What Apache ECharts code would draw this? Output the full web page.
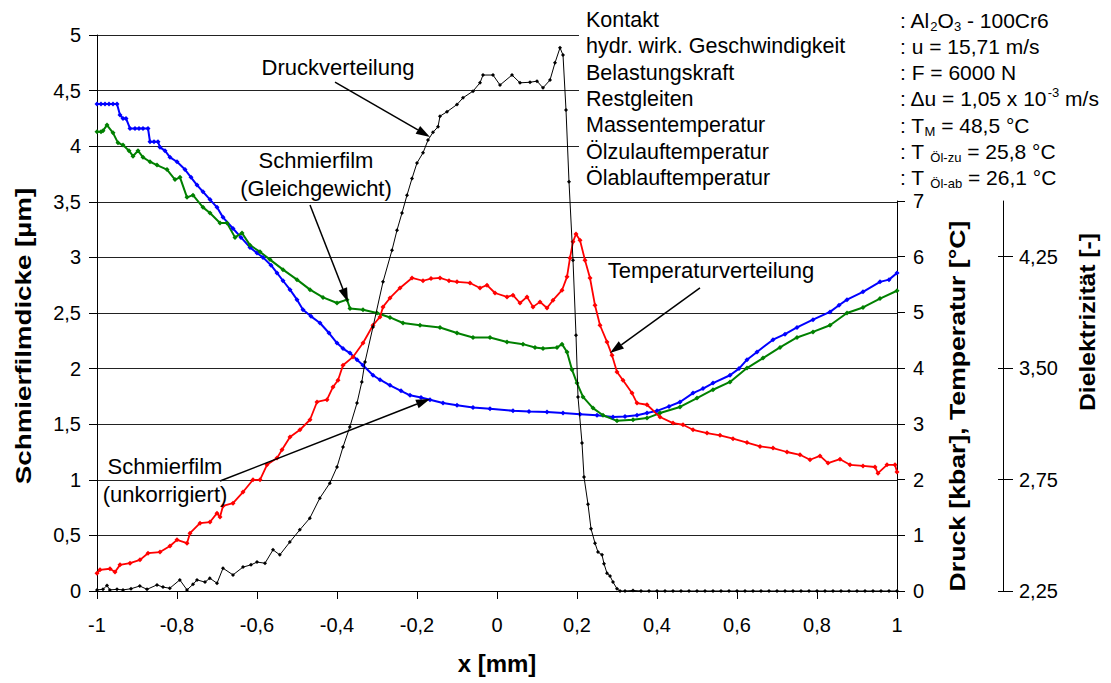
<!DOCTYPE html>
<html><head><meta charset="utf-8">
<script src="https://cdn.jsdelivr.net/npm/echarts@6/dist/echarts.min.js"></script>
<style>html,body{margin:0;padding:0;background:#fff}#c{width:1111px;height:683px}</style>
</head><body><div id="c"></div>
<script>
// ---------- DATA ----------
// Schmierfilm (unkorrigiert) [µm] vs x [mm]
const filmUnkorrigiert = [[-1.000,4.38],[-0.990,4.38],[-0.980,4.38],[-0.970,4.38],[-0.960,4.38],[-0.950,4.38],[-0.9425,4.28],[-0.935,4.25],[-0.9275,4.25],[-0.9175,4.16],[-0.905,4.16],[-0.895,4.16],[-0.885,4.16],[-0.8725,4.16],[-0.8675,4.04],[-0.8575,4.04],[-0.8475,4.04],[-0.8425,3.99],[-0.83,3.96],[-0.8175,3.90],[-0.80,3.86],[-0.78,3.79],[-0.765,3.72],[-0.75,3.65],[-0.735,3.59],[-0.7175,3.52],[-0.70,3.45],[-0.685,3.36],[-0.66,3.26],[-0.64,3.18],[-0.6175,3.09],[-0.60,3.04],[-0.585,3.00],[-0.565,2.93],[-0.55,2.86],[-0.535,2.79],[-0.5175,2.71],[-0.50,2.62],[-0.485,2.53],[-0.465,2.47],[-0.4425,2.41],[-0.42,2.32],[-0.40,2.23],[-0.385,2.18],[-0.3675,2.14],[-0.35,2.08],[-0.335,2.03],[-0.31,1.94],[-0.2925,1.90],[-0.2675,1.85],[-0.24,1.80],[-0.2175,1.76],[-0.19,1.74],[-0.1675,1.72],[-0.135,1.69],[-0.10,1.67],[-0.06,1.65],[-0.0175,1.64],[0.04,1.62],[0.08,1.615],[0.125,1.61],[0.165,1.60],[0.2075,1.59],[0.25,1.58],[0.29,1.565],[0.32,1.57],[0.35,1.58],[0.375,1.60],[0.40,1.62],[0.43,1.66],[0.4575,1.70],[0.49,1.78],[0.515,1.82],[0.54,1.87],[0.5825,1.94],[0.605,2.00],[0.625,2.08],[0.65,2.15],[0.69,2.26],[0.72,2.31],[0.75,2.37],[0.79,2.44],[0.8325,2.51],[0.855,2.57],[0.875,2.62],[0.915,2.69],[0.9575,2.78],[0.98,2.80],[1.0,2.86]];

// Schmierfilm (Gleichgewicht) [µm]
const filmGleichgewicht = [[-1.0,4.13],[-0.99,4.13],[-0.985,4.14],[-0.975,4.19],[-0.96,4.12],[-0.9475,4.03],[-0.935,4.01],[-0.92,3.96],[-0.91,3.91],[-0.8975,3.96],[-0.885,3.90],[-0.8675,3.86],[-0.85,3.83],[-0.825,3.79],[-0.805,3.70],[-0.7925,3.72],[-0.775,3.54],[-0.76,3.56],[-0.735,3.45],[-0.7175,3.40],[-0.6925,3.31],[-0.675,3.31],[-0.655,3.18],[-0.6375,3.22],[-0.6175,3.11],[-0.5925,3.05],[-0.5675,2.98],[-0.535,2.89],[-0.5,2.80],[-0.4675,2.71],[-0.435,2.64],[-0.4,2.59],[-0.375,2.62],[-0.3675,2.54],[-0.335,2.53],[-0.3,2.50],[-0.2675,2.46],[-0.235,2.41],[-0.1925,2.39],[-0.1425,2.37],[-0.1,2.32],[-0.06,2.28],[-0.0175,2.28],[0.025,2.24],[0.065,2.22],[0.095,2.19],[0.115,2.18],[0.15,2.19],[0.1625,2.22],[0.175,2.15],[0.1875,1.99],[0.2,1.87],[0.215,1.745],[0.24,1.645],[0.265,1.58],[0.3,1.53],[0.34,1.54],[0.375,1.555],[0.4075,1.60],[0.4575,1.655],[0.5,1.735],[0.54,1.81],[0.5825,1.88],[0.625,2.005],[0.665,2.095],[0.7075,2.19],[0.75,2.28],[0.79,2.33],[0.8325,2.39],[0.875,2.50],[0.915,2.55],[0.9575,2.63],[1.0,2.70]];

// Druckverteilung [kbar]
const druck = [[-1.0,0.02],[-0.985,0.03],[-0.975,0.10],[-0.968,0.02],[-0.95,0.03],[-0.935,0.02],[-0.915,0.04],[-0.893,0.09],[-0.875,0.03],[-0.85,0.11],[-0.835,0.07],[-0.818,0.05],[-0.793,0.20],[-0.775,0.02],[-0.76,0.12],[-0.75,0.20],[-0.73,0.16],[-0.718,0.23],[-0.70,0.14],[-0.685,0.41],[-0.66,0.29],[-0.635,0.43],[-0.615,0.47],[-0.60,0.52],[-0.58,0.50],[-0.56,0.74],[-0.543,0.65],[-0.518,0.88],[-0.493,1.10],[-0.468,1.31],[-0.443,1.67],[-0.418,1.94],[-0.40,2.23],[-0.385,2.59],[-0.368,2.95],[-0.35,3.38],[-0.338,3.76],[-0.33,4.12],[-0.31,4.75],[-0.285,5.56],[-0.2625,6.13],[-0.25,6.49],[-0.2375,6.80],[-0.225,7.12],[-0.2125,7.42],[-0.2,7.70],[-0.185,7.88],[-0.1725,8.11],[-0.16,8.25],[-0.1475,8.35],[-0.1425,8.54],[-0.125,8.62],[-0.1,8.75],[-0.085,8.87],[-0.06,8.99],[-0.0425,9.14],[-0.035,9.28],[-0.01,9.28],[0.0075,9.10],[0.0375,9.28],[0.0575,9.14],[0.0825,9.15],[0.1,9.17],[0.115,9.05],[0.1325,9.19],[0.145,9.50],[0.1575,9.77],[0.165,9.64],[0.1725,8.65],[0.18,7.36],[0.19,5.95],[0.1975,4.60],[0.2025,3.49],[0.2125,2.66],[0.2175,2.05],[0.2275,1.56],[0.235,1.12],[0.245,0.86],[0.2525,0.70],[0.2625,0.65],[0.2675,0.49],[0.275,0.32],[0.2825,0.27],[0.29,0.16],[0.30,0.04],[0.3075,0],[0.32,0],[0.34,0.01],[0.36,0],[0.38,0],[0.40,0],[0.42,0],[0.44,0],[0.46,0],[0.48,0],[0.50,0],[0.52,0],[0.54,0],[0.56,0],[0.58,0],[0.60,0],[0.62,0],[0.64,0],[0.66,0],[0.68,0],[0.70,0],[0.72,0],[0.74,0],[0.76,0],[0.78,0],[0.80,0],[0.82,0],[0.84,0],[0.86,0],[0.88,0],[0.90,0],[0.92,0],[0.94,0],[0.96,0],[0.98,0],[1.0,0]];

// Temperaturverteilung [°C]
const temperatur = [[-1.0,0.32],[-0.9925,0.38],[-0.9675,0.40],[-0.955,0.34],[-0.9425,0.47],[-0.9175,0.50],[-0.8925,0.56],[-0.8725,0.68],[-0.8425,0.70],[-0.8175,0.81],[-0.80,0.92],[-0.775,0.86],[-0.7675,1.04],[-0.7425,1.22],[-0.7175,1.24],[-0.70,1.40],[-0.6925,1.33],[-0.685,1.53],[-0.66,1.58],[-0.635,1.78],[-0.61,2.00],[-0.5925,2.00],[-0.575,2.27],[-0.55,2.39],[-0.5375,2.54],[-0.5175,2.77],[-0.4925,2.90],[-0.4675,3.08],[-0.45,3.40],[-0.425,3.44],[-0.41,3.67],[-0.3975,3.79],[-0.385,4.06],[-0.36,4.21],[-0.335,4.46],[-0.31,4.78],[-0.2925,4.93],[-0.285,5.11],[-0.2675,5.27],[-0.2425,5.45],[-0.2125,5.63],[-0.185,5.58],[-0.165,5.62],[-0.1425,5.63],[-0.12,5.58],[-0.1,5.56],[-0.0675,5.54],[-0.0425,5.45],[-0.025,5.50],[-0.005,5.36],[0.025,5.29],[0.04,5.32],[0.0575,5.18],[0.075,5.29],[0.09,5.11],[0.1075,5.20],[0.125,5.09],[0.14,5.23],[0.1625,5.41],[0.175,5.65],[0.1825,5.99],[0.19,6.28],[0.1975,6.42],[0.2075,6.31],[0.22,5.95],[0.2325,5.63],[0.245,5.14],[0.2575,4.78],[0.275,4.48],[0.2875,4.24],[0.30,3.94],[0.315,3.79],[0.3375,3.56],[0.35,3.38],[0.375,3.35],[0.4075,3.13],[0.44,3.02],[0.465,2.99],[0.49,2.90],[0.525,2.84],[0.5575,2.80],[0.59,2.74],[0.625,2.67],[0.6575,2.60],[0.69,2.57],[0.725,2.50],[0.7575,2.45],[0.7825,2.36],[0.8075,2.43],[0.8275,2.30],[0.8575,2.37],[0.8825,2.27],[0.915,2.25],[0.945,2.23],[0.9525,2.12],[0.975,2.27],[0.995,2.27],[1.0,2.14]];

// Dielektrizität axis tick labels (placed at Druck-scale positions 0,2,4,6)
const dielekTickPos = [0, 2, 4, 6];
const dielekLabels = ['2,25', '2,75', '3,50', '4,25'];

// Versuchsbedingungen
const infoLeft = ['Kontakt', 'hydr. wirk. Geschwindigkeit', 'Belastungskraft', 'Restgleiten', 'Massentemperatur', 'Ölzulauftemperatur', 'Ölablauftemperatur'];
const infoRight = [': Al{s|2}O{s|3} - 100Cr6', ': u = 15,71 m/s', ': F = 6000 N', ': \u0394u = 1,05 x 10{p|-3} m/s', ': T{s|M} = 48,5 °C', ': T {s|Öl-zu} = 25,8 °C', ': T {s|Öl-ab} = 26,1 °C'];

// Annotations: text lines, text anchor (x, µm), arrow start, arrow end
const annotations = [
  {lines: ['Druckverteilung'], at: [-0.3975, 4.712], from: [-0.405, 4.577], to: [-0.1675, 4.083]},
  {lines: ['Schmierfilm', '(Gleichgewicht)'], at: [-0.4525, 3.75], from: [-0.4675, 3.471], to: [-0.3725, 2.599]},
  {lines: ['Temperaturverteilung'], at: [0.535, 2.878], from: [0.5075, 2.725], to: [0.2825, 2.14]},
  {lines: ['Schmierfilm', '(unkorrigiert)'], at: [-0.83, 0.998], from: [-0.6925, 0.989], to: [-0.1675, 1.727]}
];

// ---------- CHART ----------
const FF = '"Liberation Sans", Arial, sans-serif';
const comma = v => String(Math.round(v * 1000) / 1000).replace('.', ',');
const chart = echarts.init(document.getElementById('c'), null, {renderer: 'svg'});

const black = '#000';
const axLine = {show: true, onZero: false, lineStyle: {color: black, width: 1}};
const lbl = extra => Object.assign({color: black, fontSize: 20, fontFamily: FF}, extra);

const option = {
  animation: false,
  backgroundColor: '#fff',
  grid: [
    {left: 97, right: 214, top: 35, bottom: 92, outerBoundsMode: 'none'},
    {left: 97, right: 214, top: 201, bottom: 92, outerBoundsMode: 'none'}
  ],
  xAxis: [
    {type: 'value', gridIndex: 0, min: -1, max: 1, interval: 0.2, axisLine: axLine,
      axisTick: {show: true, length: 8, lineStyle: {color: black}},
      axisLabel: lbl({margin: 24, formatter: comma}), splitLine: {show: false}},
    {type: 'value', gridIndex: 1, min: -1, max: 1, show: false}
  ],
  yAxis: [
    {type: 'value', gridIndex: 0, position: 'left', min: 0, max: 5, interval: 0.5, axisLine: axLine,
      axisTick: {show: true, length: 8, lineStyle: {color: black}},
      axisLabel: lbl({margin: 16, formatter: comma}),
      splitLine: {show: true, lineStyle: {color: '#222', width: 1}}},
    {type: 'value', gridIndex: 0, min: 0, max: 10, show: false},
    {type: 'value', gridIndex: 1, position: 'right', offset: 0, min: 0, max: 7, interval: 1, axisLine: axLine,
      axisTick: {show: true, length: 8, lineStyle: {color: black}},
      axisLabel: lbl({margin: 16}), splitLine: {show: false}},
    {type: 'value', gridIndex: 1, position: 'right', offset: 106, min: 0, max: 7, axisLine: axLine,
      axisTick: {show: true, length: 10, lineStyle: {color: black}, customValues: dielekTickPos},
      axisLabel: lbl({margin: 16, customValues: dielekTickPos,
        formatter: v => dielekLabels[dielekTickPos.indexOf(Math.round(v))] || ''}),
      splitLine: {show: false}},
    {type: 'value', gridIndex: 1, position: 'right', offset: 106, min: 0, max: 7,
      axisLine: {show: false, onZero: false}, axisLabel: {show: false}, splitLine: {show: false},
      axisTick: {show: true, inside: true, length: 5, lineStyle: {color: black}, customValues: dielekTickPos}}
  ],
  series: [
    {name: 'Schmierfilm (unkorrigiert)', type: 'line', xAxisIndex: 0, yAxisIndex: 0, data: filmUnkorrigiert,
      symbol: 'diamond', symbolSize: 5, lineStyle: {color: '#0000ff', width: 2}, itemStyle: {color: '#0000ff'}, z: 3},
    {name: 'Schmierfilm (Gleichgewicht)', type: 'line', xAxisIndex: 0, yAxisIndex: 0, data: filmGleichgewicht,
      symbol: 'diamond', symbolSize: 5, lineStyle: {color: '#008000', width: 2}, itemStyle: {color: '#008000'}, z: 3},
    {name: 'Temperaturverteilung', type: 'line', xAxisIndex: 0, yAxisIndex: 1, data: temperatur,
      symbol: 'diamond', symbolSize: 5, lineStyle: {color: '#ff0000', width: 1.8}, itemStyle: {color: '#ff0000'}, z: 3},
    {name: 'Druckverteilung', type: 'line', xAxisIndex: 0, yAxisIndex: 1, data: druck,
      symbol: 'diamond', symbolSize: 4, lineStyle: {color: '#000', width: 1}, itemStyle: {color: '#000'}, z: 4},
    {type: 'line', xAxisIndex: 1, yAxisIndex: 2, data: [], silent: true}
  ]
};
chart.setOption(option);

// ---------- GRAPHICS: titles, info block, annotations ----------
const g = [];
const titleFont = 'bold 22px ' + FF;
g.push({type: 'text', x: 23, y: 336, rotation: Math.PI / 2, scaleX: 1.26, z: 10,
  style: {text: 'Schmierfilmdicke [µm]', font: titleFont, fill: black, align: 'center', verticalAlign: 'middle'}});
g.push({type: 'text', x: 957, y: 406, rotation: Math.PI / 2, scaleX: 1.21, z: 10,
  style: {text: 'Druck [kbar], Temperatur [°C]', font: titleFont, fill: black, align: 'center', verticalAlign: 'middle'}});
g.push({type: 'text', x: 1087, y: 322, rotation: Math.PI / 2, scaleX: 1.12, z: 10,
  style: {text: 'Dielektrizität [-]', font: titleFont, fill: black, align: 'center', verticalAlign: 'middle'}});
g.push({type: 'text', x: 497, y: 663, z: 10,
  style: {text: 'x [mm]', font: 'bold 24px ' + FF, fill: black, align: 'center', verticalAlign: 'middle'}});

// white background of the info block
g.push({type: 'rect', shape: {x: 579, y: 0, width: 532, height: 193}, z: 8, style: {fill: '#fff'}});
const lineY0 = 20, lineDY = 26.3;
infoLeft.forEach((t, i) => {
  g.push({type: 'text', x: 586, y: lineY0 + i * lineDY, z: 10,
    style: {text: t, font: '21.5px ' + FF, fill: black, align: 'left', verticalAlign: 'middle'}});
});
infoRight.forEach((t, i) => {
  g.push({type: 'text', x: 900, y: lineY0 + i * lineDY, z: 10,
    style: {text: t, fontSize: 21, fontFamily: FF, fill: black, align: 'left', verticalAlign: 'middle', lineHeight: 25,
      rich: {
        s: {fontSize: 13, fontFamily: FF, fill: black, verticalAlign: 'bottom', lineHeight: 13},
        p: {fontSize: 13, fontFamily: FF, fill: black, verticalAlign: 'top', lineHeight: 13}
      }}});
});

// annotations with arrows
const toPx = p => chart.convertToPixel({xAxisIndex: 0, yAxisIndex: 0}, p);
annotations.forEach(a => {
  const c = toPx(a.at);
  a.lines.forEach((t, i) => {
    g.push({type: 'text', x: c[0], y: c[1] + (i - (a.lines.length - 1) / 2) * 28, z: 10,
      style: {text: t, font: '22px ' + FF, fill: black, align: 'center', verticalAlign: 'middle'}});
  });
  const s = toPx(a.from), e = toPx(a.to);
  const dx = e[0] - s[0], dy = e[1] - s[1], L = Math.hypot(dx, dy);
  const ux = dx / L, uy = dy / L, hl = 14, hw = 4.5;
  const bx = e[0] - ux * hl, by = e[1] - uy * hl;
  g.push({type: 'line', z: 10, shape: {x1: s[0], y1: s[1], x2: bx, y2: by}, style: {stroke: black, lineWidth: 1.5}});
  g.push({type: 'polygon', z: 10, shape: {points: [[e[0], e[1]], [bx - uy * hw, by + ux * hw], [bx + uy * hw, by - ux * hw]]},
    style: {fill: black}});
});
chart.setOption({graphic: g});
</script>
</body></html>
